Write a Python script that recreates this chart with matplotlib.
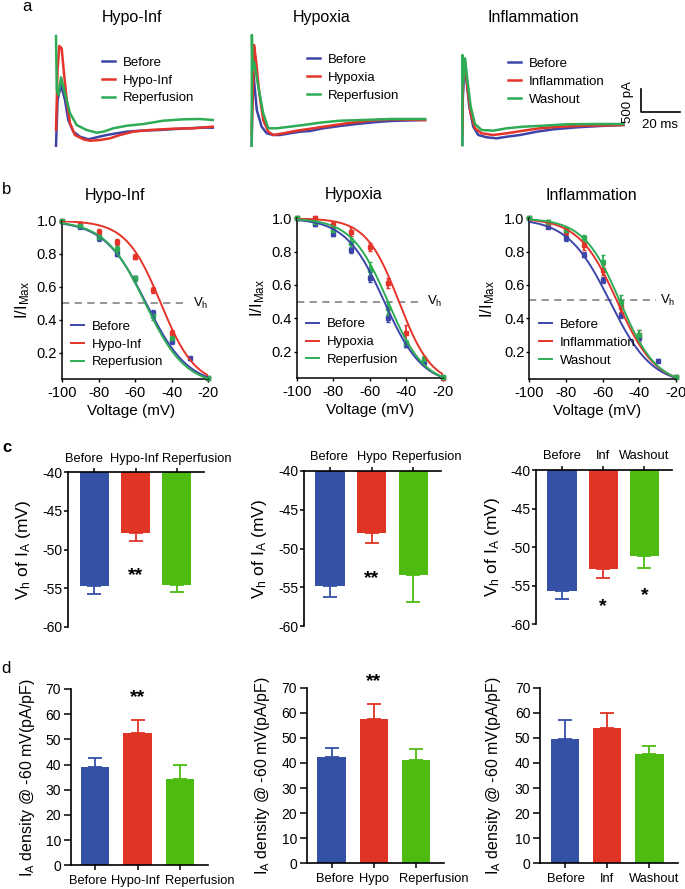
import numpy as np
import matplotlib
matplotlib.use("Agg")
import matplotlib.pyplot as plt
from matplotlib.transforms import ScaledTranslation

plt.rcParams['font.family'] = 'Liberation Sans'
plt.rcParams['mathtext.fontset'] = 'custom'
plt.rcParams['mathtext.rm'] = 'Liberation Sans'
plt.rcParams['mathtext.it'] = 'Liberation Sans:italic'
plt.rcParams['mathtext.default'] = 'regular'
plt.rcParams['axes.unicode_minus'] = False

# ---- data ----
conditions = ["Hypo-Inf", "Hypoxia", "Inflammation"]
series_labels = [["Before", "Hypo-Inf", "Reperfusion"],
                 ["Before", "Hypoxia", "Reperfusion"],
                 ["Before", "Inflammation", "Washout"]]
bar_labels = [["Before", "Hypo-Inf", "Reperfusion"],
              ["Before", "Hypo", "Reperfusion"],
              ["Before", "Inf", "Washout"]]

# a: current traces, (time ms, current pA)
hypoinf_before = [(0, 93), (0.8, 1087), (2.6, 1413), (4.6, 1087), (6.3, 652), (8.9, 398), (12.3, 289),
                  (16.6, 233), (20.9, 276), (26.0, 326), (31.1, 363), (36.3, 398), (43.1, 420),
                  (53.3, 435), (63.6, 463), (73.8, 485), (80.4, 485)]
hypoinf_treat = [(0, 435), (0.8, 1739), (1.7, 2261), (2.9, 2211), (4.1, 1667), (5.5, 1087), (7.2, 580),
                 (9.7, 326), (14.0, 233), (17.4, 202), (22.6, 217), (27.7, 254), (32.8, 326),
                 (39.6, 398), (48.2, 435), (60.2, 463), (70.4, 472), (80.4, 507)]
hypoinf_after = [(0, 2478), (0.4, 1304), (1.2, 1196), (2.6, 1580), (4.6, 1233), (7.2, 798), (10.6, 543),
                 (15.7, 435), (20.9, 376), (24.3, 398), (29.4, 472), (36.3, 528), (44.8, 565),
                 (55.0, 637), (65.3, 667), (73.8, 674), (80.4, 652)]
hypoxia_before = [(0, 93), (0.3, 935), (0.8, 1702), (2.6, 870), (5.1, 507), (7.7, 363), (11.1, 326),
                  (14.5, 326), (19.6, 363), (24.8, 398), (29.9, 413), (36.7, 472), (45.3, 522),
                  (53.8, 565), (62.4, 602), (70.9, 630), (88.9, 652)]
hypoxia_treat = [(0, 363), (1.2, 2283), (2.2, 1957), (3.9, 1233), (5.9, 652), (8.5, 398), (11.1, 326),
                 (16.2, 363), (23.1, 420), (31.6, 472), (40.2, 528), (48.7, 580), (60.7, 637),
                 (70.9, 667), (88.9, 652)]
hypoxia_after = [(0, 93), (0.1, 2500), (0.4, 1739), (1.2, 1920), (3.4, 1376), (5.9, 798), (8.5, 472),
                 (12.8, 472), (19.6, 507), (26.5, 543), (35.0, 594), (45.3, 637), (57.2, 652),
                 (70.9, 674), (88.9, 674)]
inflam_before = [(0, 109), (0.2, 1087), (1.2, 1885), (2.3, 1450), (3.6, 941), (5.6, 507), (8.2, 326),
                 (12.5, 276), (17.6, 254), (22.8, 289), (29.6, 326), (38.2, 398), (46.7, 450),
                 (58.7, 493), (70.6, 522), (82.6, 543)]
inflam_treat = [(0, 363), (0.4, 1885), (1.2, 1957), (2.6, 1376), (4.3, 798), (6.5, 472), (9.9, 363),
                (15.9, 326), (22.8, 363), (31.3, 420), (39.8, 472), (50.1, 507), (62.1, 528), (82.6, 543)]
inflam_after = [(0, 109), (0.05, 2065), (0.5, 1450), (1.4, 1993), (2.6, 1522), (4.3, 941), (6.5, 565),
                (9.9, 435), (15.9, 420), (22.8, 472), (31.3, 507), (41.5, 528), (53.5, 559),
                (67.2, 565), (82.6, 565)]
traces = [[hypoinf_before, hypoinf_treat, hypoinf_after],
          [hypoxia_before, hypoxia_treat, hypoxia_after],
          [inflam_before, inflam_treat, inflam_after]]

# b: steady-state inactivation I/Imax
voltages = [-100, -90, -80, -70, -60, -50, -40, -30, -20]
nan = np.nan
hypoinf_ratio = [[1.0, 0.964, 0.893, 0.80, 0.65, 0.44, 0.27, 0.166, 0.045],
                 [1.0, 0.98, 0.93, 0.87, 0.78, 0.58, 0.32, nan, 0.045],
                 [1.0, 0.97, 0.90, 0.83, 0.65, 0.42, 0.29, nan, 0.045]]
hypoinf_err = [[0, 0.01, 0.015, 0.015, 0.015, 0.02, 0.02, 0.01, 0.005],
               [0, 0.01, 0.02, 0.02, 0.015, 0.02, 0.02, nan, 0.005],
               [0, 0.01, 0.015, 0.015, 0.015, 0.02, 0.02, nan, 0.005]]
hypoxia_ratio = [[1.0, 0.966, 0.906, 0.81, 0.64, 0.40, 0.24, 0.14, 0.046],
                 [1.0, 1.0, 0.96, 0.92, 0.826, 0.61, 0.31, nan, 0.04],
                 [1.0, 0.98, 0.93, 0.85, 0.69, 0.46, 0.25, 0.155, 0.05]]
hypoxia_err = [[0, 0.01, 0.015, 0.02, 0.02, 0.025, 0.015, 0.02, 0.005],
               [0, 0.015, 0.02, 0.025, 0.025, 0.03, 0.05, nan, 0.005],
               [0, 0.01, 0.02, 0.03, 0.05, 0.04, 0.02, 0.02, 0.005]]
inflam_ratio = [[1.0, 0.95, 0.88, 0.78, 0.63, 0.42, 0.28, 0.146, 0.05],
                [1.0, 0.974, 0.92, 0.84, 0.69, 0.47, 0.30, nan, 0.05],
                [1.0, 0.98, 0.93, 0.88, 0.74, 0.50, 0.30, nan, 0.05]]
inflam_err = [[0, 0.01, 0.015, 0.015, 0.02, 0.02, 0.02, 0.01, 0.005],
              [0, 0.015, 0.02, 0.03, 0.03, 0.03, 0.03, nan, 0.005],
              [0, 0.01, 0.02, 0.02, 0.04, 0.04, 0.03, nan, 0.005]]
ratios = [hypoinf_ratio, hypoxia_ratio, inflam_ratio]
ratio_errs = [hypoinf_err, hypoxia_err, inflam_err]
# Boltzmann fit parameters (V1/2, slope k) of the drawn curves
fit_vhalf = [[-54, -46, -54.5], [-52, -44, -50], [-56, -52, -50.5]]
fit_k = [[11.5, 9.5, 11], [10.5, 9, 10], [11.5, 10.5, 10]]
vh_line = [0.5, 0.5, 0.51]

# c: Vh of IA (mV)
vh_mean = [[-54.7, -47.9, -54.6], [-54.8, -48.0, -53.4], [-55.7, -52.8, -51.1]]
vh_sem = [[1.1, 0.95, 0.85], [1.4, 1.35, 3.5], [1.0, 1.2, 1.65]]
# d: IA density at -60 mV (pA/pF)
dens_mean = [[38.9, 52.7, 34.1], [42.2, 57.5, 41.2], [49.5, 53.8, 43.4]]
dens_sem = [[3.6, 5.0, 5.7], [3.6, 6.0, 4.2], [7.6, 6.0, 3.3]]

line_colors = ["#3d45a8", "#e5342a", "#2eac55"]
bar_colors = ["#3451a6", "#e03425", "#4dbb10"]

# ---- layout ----
W, H = 685, 889
fig = plt.figure(figsize=(W / 100, H / 100), dpi=100)


def px_axes(left, top, right, bottom):
    return fig.add_axes([left / W, 1 - bottom / H, (right - left) / W, (bottom - top) / H])


def fig_xy(x, y):
    return x / W, 1 - y / H


def shift_xticklabels(ax, offsets_px):
    # must run after tick_params, which resets the label transforms
    for tick, dx in zip(ax.xaxis.get_major_ticks(), offsets_px):
        for lab in (tick.label1, tick.label2):
            lab.set_transform(lab.get_transform() + ScaledTranslation(dx / 100, 0, fig.dpi_scale_trans))


MS_PX = 1.95    # pixels per ms
PA_PX = 0.046   # pixels per pA

# panel letters
for letter, (x, y), wt in zip("abcd", [(22, 11), (2, 194), (2, 452), (1, 673)],
                              ["normal", "normal", "bold", "normal"]):
    fig.text(*fig_xy(x, y), letter, fontsize=12, fontweight=wt, ha="left", va="baseline")

legend_kw = dict(loc="upper left", bbox_transform=fig.transFigure, frameon=False, fontsize=9.5,
                 handlelength=1.0, handletextpad=0.55, labelspacing=0.42, borderpad=0, borderaxespad=0)

# ---- a: traces ----
trace_x0 = [56, 251.7, 462.3]
title_a_pos = [(131.7, 21.7), (321.7, 22.3), (533.3, 21.7)]
leg_a_pos = [(102, 56.5), (307.3, 53.8), (508.3, 57.8)]
for j in range(3):
    ax = px_axes(trace_x0[j], 30, trace_x0[j] + 222, 150)
    ax.set_xlim(0, 222 / MS_PX)
    ax.set_ylim(0, 120 / PA_PX)
    ax.axis("off")
    for s in range(3):
        t, cur = np.array(traces[j][s], dtype=float).T
        ax.plot(t, cur, color=line_colors[s], lw=1.8, label=series_labels[j][s], clip_on=False)
    fig.text(*fig_xy(*title_a_pos[j]), conditions[j], fontsize=11.5, ha="center", va="baseline")
    ax.legend(bbox_to_anchor=fig_xy(*leg_a_pos[j]), **legend_kw)
    if j == 2:
        # scale bar 500 pA / 20 ms
        ax.plot([91.6, 91.6, 111.6], [1326, 826, 826], color="black", lw=1.2, clip_on=False)
        ax.text(85, 1043, "500 pA", rotation=90, fontsize=9.5, ha="center", va="center")
        ax.text(101.4, 543, "20 ms", fontsize=9.5, ha="center", va="center")

# ---- b: inactivation curves ----
b_rects = [(62, 220.7, 208.3, 379.3), (296.7, 218.3, 442.7, 378.3), (529.3, 218.3, 676, 379.3)]
b_ylow = [0.038, 0.04, 0.034]
b_title_x = [0.364, 0.39, 0.42]
b_title_pad = [15, 13.7, 13.2]
b_ylab_x = [-0.207, -0.205, -0.222]
b_xlab_x = [0.47, 0.5, 0.46]
leg_b_pos = [(71, 320.5), (306, 318.2), (539.3, 318.8)]
vfit = np.linspace(-100, -20, 200)
for j in range(3):
    ax = px_axes(*b_rects[j])
    for s in range(3):
        curve = 1 / (1 + np.exp((vfit - fit_vhalf[j][s]) / fit_k[j][s]))
        ax.plot(vfit, curve, color=line_colors[s], lw=1.4, label=series_labels[j][s], zorder=3)
        ax.errorbar(voltages, ratios[j][s], yerr=ratio_errs[j][s], fmt="s", ms=3, color=line_colors[s],
                    elinewidth=1.3, capsize=1.2, clip_on=False, zorder=2)
    ax.plot([-100, -31], [vh_line[j], vh_line[j]], ls=(0, (4, 3)), color="#8c8c8c", lw=1.3, zorder=1)
    ax.text(-28.5, vh_line[j], "V$_h$", fontsize=9.5, ha="left", va="center")
    ax.set_xlim(-100, -20)
    ax.set_ylim(b_ylow[j], 1.0)
    ax.set_xticks([-100, -80, -60, -40, -20])
    ax.set_yticks([0.2, 0.4, 0.6, 0.8, 1.0])
    ax.set_yticklabels(["0.2", "0.4", "0.6", "0.8", "1.0"])
    for side in ["top", "right"]:
        ax.spines[side].set_visible(False)
    for side in ["left", "bottom"]:
        ax.spines[side].set_linewidth(1.1)
    ax.tick_params(axis="x", direction="out", length=2.5, width=1, labelsize=10.5, pad=2)
    ax.tick_params(axis="y", direction="out", length=2, width=1, labelsize=10.5, pad=1.5)
    ax.set_title(conditions[j], x=b_title_x[j], pad=b_title_pad[j], fontsize=11.5)
    ax.set_ylabel("I/I$_{Max}$", fontsize=12)
    ax.yaxis.set_label_coords(b_ylab_x[j], 0.5)
    ax.set_xlabel("Voltage (mV)", fontsize=11)
    ax.xaxis.set_label_coords(b_xlab_x[j], -0.155)
    ax.legend(bbox_to_anchor=fig_xy(*leg_b_pos[j]), **legend_kw)

# ---- c: Vh bars ----
c_rects = [(68.3, 472.3, 204, 626.7), (304, 471, 440.7, 626), (536, 470, 671.7, 624.3)]
c_ylab_x = [-0.26, -0.254, -0.253]
c_label_dx = [[-10, -1, 19.5], [-1, 0, 13.5], [0, 0, 0]]
c_star_x = [[1], [1], [1, 2]]
c_star_y = [[-54.0], [-54.5], [-58.3, -56.8]]
c_star_txt = [["**"], ["**"], ["*", "*"]]
xpos = np.arange(3)
for j in range(3):
    ax = px_axes(*c_rects[j])
    heights = np.array(vh_mean[j]) + 40
    ax.bar(xpos, heights, bottom=-40, width=0.71, color=bar_colors)
    for s in range(3):
        ax.errorbar(xpos[s], vh_mean[j][s], yerr=[[vh_sem[j][s]], [0]], color=bar_colors[s],
                    elinewidth=1.3, capsize=5, capthick=1.3, clip_on=False)
    for x, y, txt in zip(c_star_x[j], c_star_y[j], c_star_txt[j]):
        ax.text(x, y, txt, fontsize=14, fontweight="bold", ha="center", va="baseline")
    ax.set_xlim(-0.63, 2.66)
    ax.set_ylim(-60, -40)
    ax.set_yticks([-60, -55, -50, -45, -40])
    ax.xaxis.tick_top()
    ax.set_xticks(xpos)
    ax.set_xticklabels(bar_labels[j], fontsize=9.3)
    for side in ["bottom", "right"]:
        ax.spines[side].set_visible(False)
    for side in ["left", "top"]:
        ax.spines[side].set_linewidth(1.2)
    ax.tick_params(axis="x", direction="out", length=3, width=1.1, pad=2.5)
    ax.tick_params(axis="y", direction="out", length=3, width=1.1, pad=1, labelsize=10)
    shift_xticklabels(ax, c_label_dx[j])
    ax.set_ylabel("V$_h$ of I$_A$ (mV)", fontsize=12.5)
    ax.yaxis.set_label_coords(c_ylab_x[j], 0.5)

# ---- d: IA density bars ----
d_rects = [(70.7, 689, 208.3, 865.3), (306.7, 687.7, 444.3, 863.3), (540, 687.7, 678.3, 863.3)]
d_xlim = [(-0.58, 2.67), (-0.59, 2.67), (-0.585, 2.68)]
d_ylab_x = [-0.247, -0.254, -0.265]
d_label_dx = [[-7.4, -2.5, 20], [3.5, 0, 18], [1.5, 0, 5]]
d_star_y = [64.8, 70.5, None]
for j in range(3):
    ax = px_axes(*d_rects[j])
    ax.bar(xpos, dens_mean[j], width=0.67, color=bar_colors)
    for s in range(3):
        ax.errorbar(xpos[s], dens_mean[j][s], yerr=[[0], [dens_sem[j][s]]], color=bar_colors[s],
                    elinewidth=1.3, capsize=5, capthick=1.3, clip_on=False)
    if d_star_y[j] is not None:
        ax.text(1, d_star_y[j], "**", fontsize=14, fontweight="bold", ha="center", va="baseline")
    ax.set_xlim(*d_xlim[j])
    ax.set_ylim(0, 70)
    ax.set_yticks(range(0, 71, 10))
    ax.set_xticks(xpos)
    ax.set_xticklabels(bar_labels[j], fontsize=9.3)
    for side in ["top", "right"]:
        ax.spines[side].set_visible(False)
    for side in ["left", "bottom"]:
        ax.spines[side].set_linewidth(1.2)
    ax.tick_params(axis="x", direction="out", length=3.5, width=1.1, pad=3.5)
    ax.tick_params(axis="y", direction="out", length=5, width=1.1, pad=2, labelsize=10)
    shift_xticklabels(ax, d_label_dx[j])
    ax.set_ylabel("I$_A$ density @ -60 mV(pA/pF)", fontsize=11.5)
    ax.yaxis.set_label_coords(d_ylab_x[j], 0.5)

fig.savefig("out.png", dpi=100)
